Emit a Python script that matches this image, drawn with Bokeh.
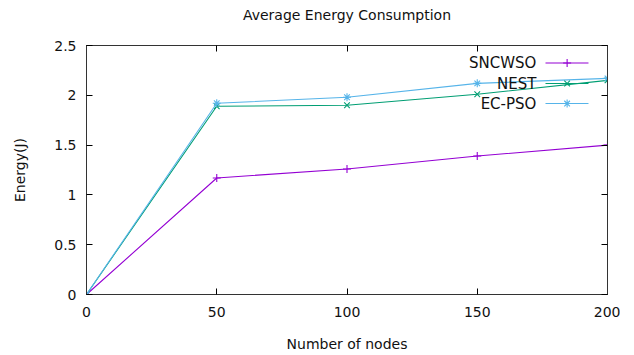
from bokeh.plotting import figure
from bokeh.models import Range1d, FixedTicker, LinearAxis, Label
from bokeh.embed import file_html
from bokeh.resources import INLINE

nodes = [0, 50, 100, 150, 200]
sncwso = [0, 1.17, 1.26, 1.39, 1.50]
nest = [0, 1.89, 1.90, 2.01, 2.15]
ecpso = [0, 1.92, 1.98, 2.12, 2.17]
series_names = ["SNCWSO", "NEST", "EC-PSO"]
x_ticks = [0, 50, 100, 150, 200]
y_ticks = [0, 0.5, 1, 1.5, 2, 2.5]
y_tick_labels = ["0", "0.5", "1", "1.5", "2", "2.5"]
title_text = "Average Energy Consumption"

colors = ["#9400d3", "#009e73", "#56b4e9"]
markers = ["cross", "x", "asterisk"]
FONT = "DejaVu Sans"
TXT = "#111111"

p = figure(width=620, height=354, output_backend="svg", toolbar_location=None,
           x_range=Range1d(0, 200), y_range=Range1d(0, 2.5),
           min_border_left=86, min_border_right=13, min_border_top=45, min_border_bottom=60)
p.grid.visible = False
p.outline_line_color = "#333333"
p.outline_line_width = 1
p.background_fill_color = "white"
p.border_fill_color = "white"

for ax in (p.xaxis[0], p.yaxis[0]):
    ax.major_tick_in = 6
    ax.major_tick_out = 0
    ax.minor_tick_in = 0
    ax.minor_tick_out = 0
    ax.axis_line_color = "#333333"
    ax.major_tick_line_color = "black"
    ax.major_label_text_font = FONT
    ax.major_label_text_font_size = "14px"
    ax.major_label_text_color = TXT
    ax.axis_label_text_font = FONT
    ax.axis_label_text_font_size = "14px"
    ax.axis_label_text_font_style = "normal"
    ax.axis_label_text_color = TXT
p.xaxis.ticker = FixedTicker(ticks=x_ticks)
p.yaxis.ticker = FixedTicker(ticks=y_ticks)
p.yaxis.major_label_overrides = {t: l for t, l in zip(y_ticks, y_tick_labels)}
p.xaxis.axis_label = "Number of nodes"
p.yaxis.axis_label = "Energy(J)"
p.xaxis.major_label_standoff = 12
p.yaxis.major_label_standoff = 10
p.xaxis.axis_label_standoff = 16
p.yaxis.axis_label_standoff = 23

for loc, ticks in (("right", y_ticks), ("above", x_ticks)):
    ax = LinearAxis(ticker=FixedTicker(ticks=ticks),
                    major_label_overrides={t: "" for t in ticks},
                    major_tick_in=6, major_tick_out=0, minor_tick_in=0, minor_tick_out=0,
                    axis_line_color="#333333", major_tick_line_color="black",
                    major_label_standoff=0)
    if loc == "above":
        # chart title drawn as the top axis label (keeps gnuplot-like spacing)
        ax.axis_label = title_text
        ax.axis_label_standoff = 23
        ax.axis_label_text_font = FONT
        ax.axis_label_text_font_size = "14px"
        ax.axis_label_text_font_style = "normal"
        ax.axis_label_text_color = TXT
    p.add_layout(ax, loc)

series = [sncwso, nest, ecpso]
for ys, c, m in zip(series, colors, markers):
    p.line(nodes, ys, line_color=c, line_width=1.1)
    p.scatter(nodes, ys, marker=m, size=8, line_color=c, line_width=1.1)

# gnuplot-style key: label right-aligned, then sample line with marker
key_text_x = 172.7
key_x0, key_x1, key_xm = 176.2, 192.7, 184.5
key_y = [2.325, 2.118, 1.917]
for name, c, m, ky in zip(series_names, colors, markers, key_y):
    p.add_layout(Label(x=key_text_x, y=ky, text=name, text_align="right",
                       text_baseline="middle", text_font=FONT, text_font_size="15px",
                       text_color=TXT))
    p.segment(x0=[key_x0], y0=[ky], x1=[key_x1], y1=[ky], line_color=c, line_width=1.1)
    p.scatter([key_xm], [ky], marker=m, size=8, line_color=c, line_width=1.1)

open("out.html", "w").write(file_html(p, INLINE))
